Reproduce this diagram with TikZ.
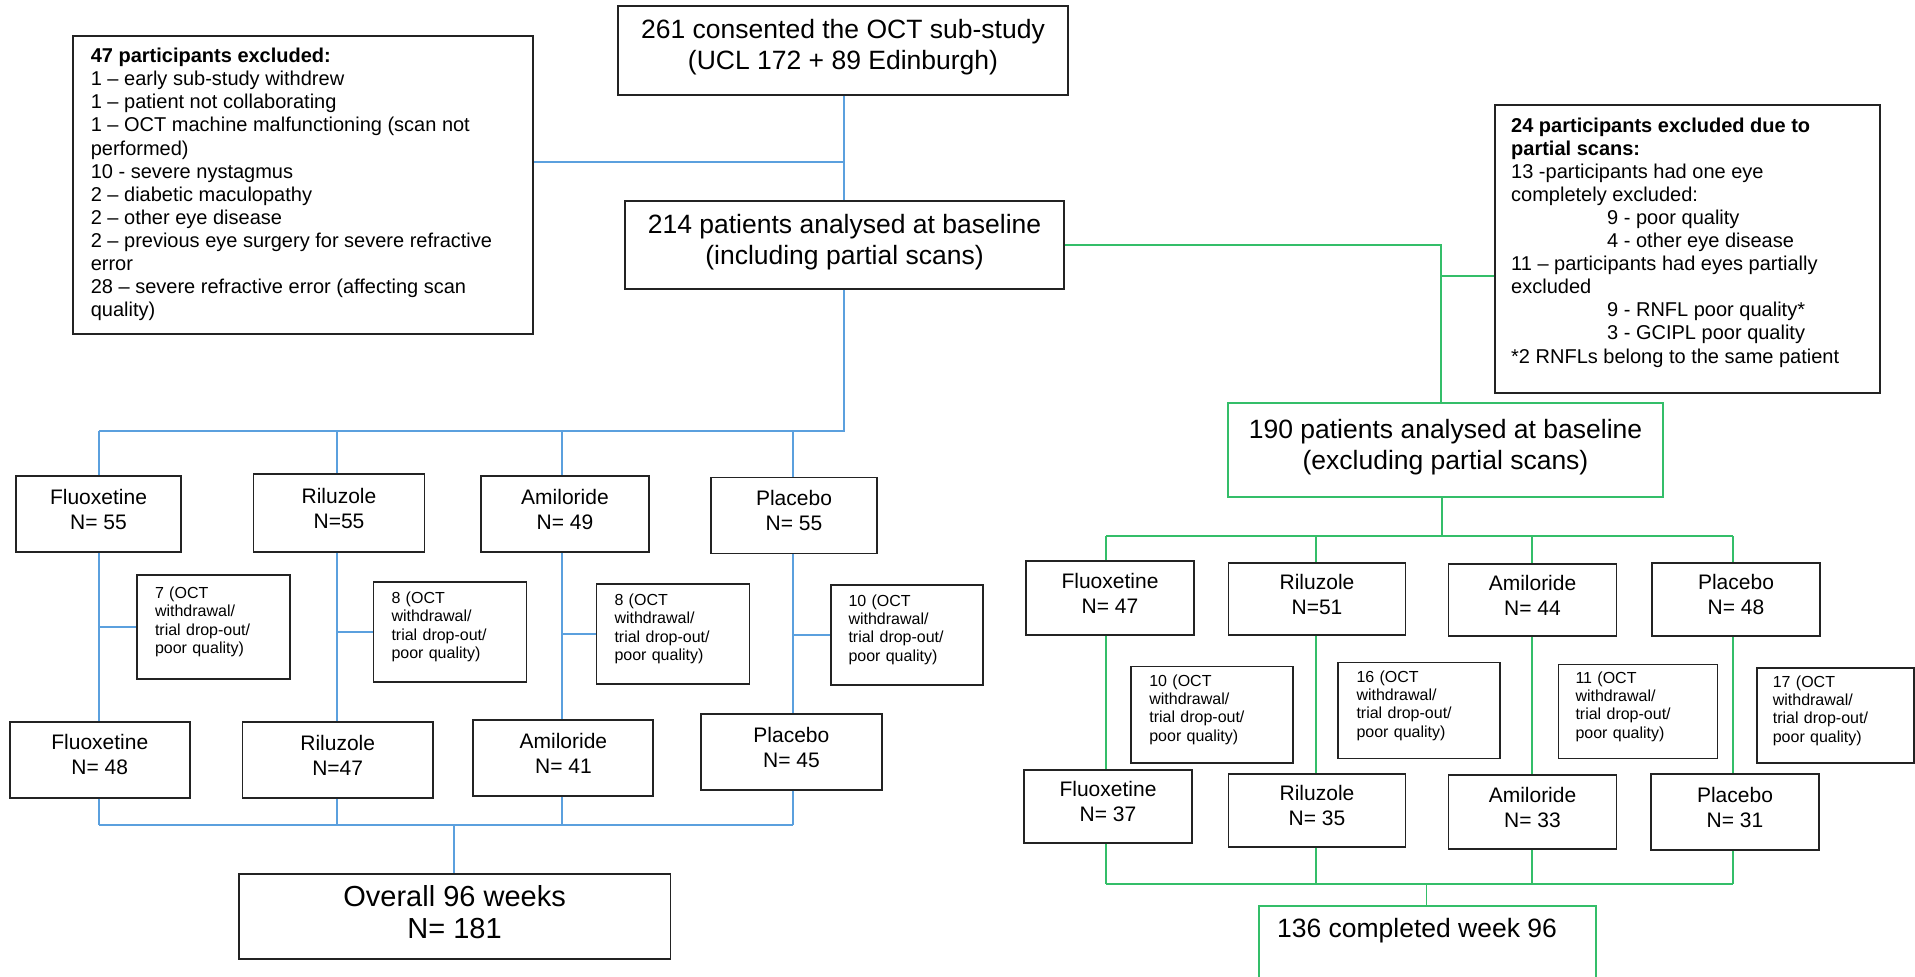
\documentclass[tikz,border=0pt]{standalone}
\usepackage{fontspec}
\setmainfont{Liberation Sans}
\definecolor{lineblue}{RGB}{91,160,222}
\definecolor{linegreen}{RGB}{52,190,105}
\definecolor{boxgray}{RGB}{35,35,35}

\begin{document}
\begin{tikzpicture}[x=1pt,y=-1pt,
  box/.style={draw=boxgray,line width=1.9pt,inner sep=0pt},
  gbox/.style={draw=linegreen,line width=2pt,inner sep=0pt},
  bl/.style={draw=lineblue,line width=1.8pt},
  gl/.style={draw=linegreen,line width=1.9pt},
  % texts set inside the boxes, sitting a little above the middle
  bigt/.style={font=\fontsize{26.5pt}{31pt}\selectfont,align=center,inner sep=0pt,yshift=3pt},
  grpt/.style={font=\fontsize{21pt}{25pt}\selectfont,align=center,inner sep=0pt,yshift=5pt},
  smt/.style={font=\fontsize{16pt}{18.3pt}\selectfont,align=left,inner sep=0pt,yshift=5pt},
  note/.style={font=\fontsize{20pt}{23.1pt}\selectfont,align=left,inner sep=0pt,anchor=north west},
]
\clip (0,0) rectangle (1915,977);

% ---------- top of the flow ----------
\node[box,minimum width=450pt,minimum height=89pt,
  label={[bigt]center:{261 consented the OCT sub-study\\(UCL 172 + 89 Edinburgh)}}] (top) at (843,50.5) {};
\node[box,minimum width=439pt,minimum height=88pt,
  label={[bigt]center:{214 patients analysed at baseline\\(including partial scans)}}] (b214) at (844.5,245) {};

% exclusion note, left
\node[box,minimum width=460pt,minimum height=298pt] (exL) at (303,185) {};
\node[note] (exLtxt) at (90.6,48) {\textbf{47 participants excluded:}\\
1 – early sub-study withdrew\\
1 – patient not collaborating\\
1 – OCT machine malfunctioning (scan not\\
performed)\\
10 - severe nystagmus\\
2 – diabetic maculopathy\\
2 – other eye disease\\
2 – previous eye surgery for severe refractive\\
error\\
28 – severe refractive error (affecting scan\\
quality)};

% exclusion note, right
\node[box,minimum width=385pt,minimum height=288pt] (exR) at (1687.5,249) {};
\node[note] (exRtxt) at (1511,117.4) {\textbf{24 participants excluded due to}\\
\textbf{partial scans:}\\
13 -participants had one eye\\
completely excluded:\\
\hspace*{96pt}9 - poor quality\\
\hspace*{96pt}4 - other eye disease\\
11 – participants had eyes partially\\
excluded\\
\hspace*{96pt}9 - RNFL poor quality*\\
\hspace*{96pt}3 - GCIPL poor quality\\
*2 RNFLs belong to the same patient};

\node[gbox,minimum width=435pt,minimum height=94pt,
  label={[bigt]center:{190 patients analysed at baseline\\(excluding partial scans)}}] (b190) at (1445.5,450) {};

% ---------- left arms (including partial scans) ----------
\node[box,minimum width=165pt,minimum height=76pt,label={[grpt]center:{Fluoxetine\\N= 55}}] (lf1) at (98.5,514) {};
\node[box,minimum width=171pt,minimum height=78pt,label={[grpt]center:{Riluzole\\N=55}}] (lr1) at (339,513) {};
\node[box,minimum width=168pt,minimum height=76pt,label={[grpt]center:{Amiloride\\N= 49}}] (la1) at (565,514) {};
\node[box,minimum width=166pt,minimum height=76pt,label={[grpt]center:{Placebo\\N= 55}}] (lp1) at (794,515.5) {};

\node[box,minimum width=153pt,minimum height=103.6pt,
  label={[smt,text width=117pt]center:{7 (OCT\\withdrawal/\\trial drop-out/\\poor quality)}}] (le1) at (213.5,626.8) {};
\node[box,minimum width=153pt,minimum height=100pt,
  label={[smt,text width=117pt]center:{8 (OCT\\withdrawal/\\trial drop-out/\\poor quality)}}] (le2) at (450,632) {};
\node[box,minimum width=153pt,minimum height=99.5pt,
  label={[smt,text width=117pt]center:{8 (OCT\\withdrawal/\\trial drop-out/\\poor quality)}}] (le3) at (673,634) {};
\node[box,minimum width=152pt,minimum height=100pt,
  label={[smt,text width=117pt]center:{10 (OCT\\withdrawal/\\trial drop-out/\\poor quality)}}] (le4) at (907,634.7) {};

\node[box,minimum width=180pt,minimum height=75.6pt,label={[grpt]center:{Fluoxetine\\N= 48}}] (lf3) at (99.8,759.8) {};
\node[box,minimum width=190.5pt,minimum height=76pt,label={[grpt]center:{Riluzole\\N=47}}] (lr3) at (337.7,760) {};
\node[box,minimum width=180pt,minimum height=75.3pt,label={[grpt]center:{Amiloride\\N= 41}}] (la3) at (563.4,758) {};
\node[box,minimum width=180.8pt,minimum height=75.5pt,label={[grpt]center:{Placebo\\N= 45}}] (lp3) at (791.4,752) {};

\node[box,minimum width=431.7pt,minimum height=85.6pt,
  label={[bigt,font=\fontsize{29pt}{32pt}\selectfont,yshift=1pt]center:{Overall 96 weeks\\N= 181}}] (overall) at (454.6,916.4) {};

% ---------- right arms (excluding partial scans) ----------
\node[box,minimum width=168.5pt,minimum height=73.6pt,label={[grpt]center:{Fluoxetine\\N= 47}}] (rf1) at (1110,598) {};
\node[box,minimum width=177pt,minimum height=72.6pt,label={[grpt]center:{Riluzole\\N=51}}] (rr1) at (1317,599) {};
\node[box,minimum width=168pt,minimum height=72.7pt,label={[grpt]center:{Amiloride\\N= 44}}] (ra1) at (1532.5,600) {};
\node[box,minimum width=168pt,minimum height=73pt,label={[grpt]center:{Placebo\\N= 48}}] (rp1) at (1736,599.5) {};

\node[box,minimum width=162.5pt,minimum height=96.3pt,
  label={[smt,text width=125pt]center:{10 (OCT\\withdrawal/\\trial drop-out/\\poor quality)}}] (re1) at (1211.8,714.6) {};
\node[box,minimum width=162pt,minimum height=96pt,
  label={[smt,text width=125pt]center:{16 (OCT\\withdrawal/\\trial drop-out/\\poor quality)}}] (re2) at (1419,710.5) {};
\node[box,minimum width=159pt,minimum height=94pt,
  label={[smt,text width=125pt]center:{11 (OCT\\withdrawal/\\trial drop-out/\\poor quality)}}] (re3) at (1638,711.5) {};
\node[box,minimum width=157.4pt,minimum height=94.5pt,
  label={[smt,text width=125pt]center:{17 (OCT\\withdrawal/\\trial drop-out/\\poor quality)}}] (re4) at (1835.3,715.5) {};

\node[box,minimum width=168pt,minimum height=73.4pt,label={[grpt]center:{Fluoxetine\\N= 37}}] (rf3) at (1108,806.7) {};
\node[box,minimum width=177pt,minimum height=73pt,label={[grpt]center:{Riluzole\\N= 35}}] (rr3) at (1317,810.5) {};
\node[box,minimum width=168pt,minimum height=73.8pt,label={[grpt]center:{Amiloride\\N= 33}}] (ra3) at (1532.5,812) {};
\node[box,minimum width=167.7pt,minimum height=76pt,label={[grpt]center:{Placebo\\N= 31}}] (rp3) at (1735,812) {};

\node[gbox,minimum width=337.4pt,minimum height=110pt,anchor=north] (b136) at (1427.7,904.5) {};
\node[font=\fontsize{26.5pt}{31pt}\selectfont,inner sep=0pt] (t136) at (1417,930.5) {136 completed week 96};

% ---------- blue connectors ----------
\coordinate (spine) at (844,431);
\coordinate (jEx) at (844,162);
\coordinate (aLa) at (99,431);
\coordinate (aLb) at (337,431);
\coordinate (aLc) at (562,431);
\coordinate (aLd) at (793,431);
\coordinate (botL) at (453.8,825);

\draw[bl] (top.south -| spine) -- (b214.north -| spine);
\draw[bl] (exL.east |- jEx) -- (jEx);
\draw[bl] (b214.south -| spine) -- (spine) -- (aLa);
\foreach \a/\u/\m/\d in {aLa/lf1/le1/lf3, aLb/lr1/le2/lr3, aLc/la1/le3/la3, aLd/lp1/le4/lp3}{
  \draw[bl] (\a) -- (\u.north -| \a);
  \draw[bl] (\u.south -| \a) -- (\d.north -| \a);
  \draw[bl] (\a |- \m.west) -- (\m.west);
  \draw[bl] (\d.south -| \a) -- (\a |- botL);
}
\draw[bl] (aLa |- botL) -- (aLd |- botL);
\draw[bl] (botL) -- (overall.north -| botL);

% ---------- green connectors ----------
\coordinate (gJ) at (1441,245);
\coordinate (gEx) at (1441,276);
\coordinate (spineR) at (1442,536);
\coordinate (aRa) at (1106,536);
\coordinate (aRb) at (1316,536);
\coordinate (aRc) at (1532,536);
\coordinate (aRd) at (1733,536);
\coordinate (botR) at (1426.5,884);

\draw[gl] (b214.east) -- (gJ) -- (b190.north -| gJ);
\draw[gl] (gEx) -- (exR.west |- gEx);
\draw[gl] (b190.south -| spineR) -- (spineR);
\draw[gl] (aRa) -- (aRd);
\foreach \a/\u/\d in {aRa/rf1/rf3, aRb/rr1/rr3, aRc/ra1/ra3, aRd/rp1/rp3}{
  \draw[gl] (\a) -- (\u.north -| \a);
  \draw[gl] (\u.south -| \a) -- (\d.north -| \a);
  \draw[gl] (\d.south -| \a) -- (\a |- botR);
}
\draw[gl] (aRa |- botR) -- (aRd |- botR);
\draw[gl] (botR) -- (b136.north -| botR);
\end{tikzpicture}
\end{document}
